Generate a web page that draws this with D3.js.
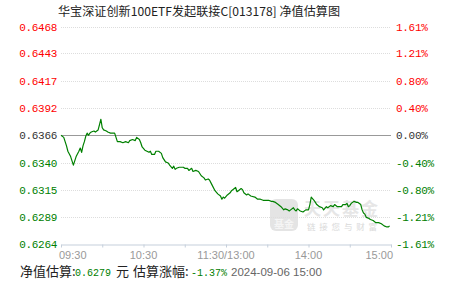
<!DOCTYPE html>
<html>
<head>
<meta charset="utf-8">
<script src="https://cdn.jsdelivr.net/npm/d3@7"></script>
<style>
  html, body { margin: 0; padding: 0; background: #fff; }
  svg { display: block; }
  .mono { font-family: "Liberation Mono", "DejaVu Sans Mono", monospace; }
  .cjk { font-family: "Noto Sans CJK SC", sans-serif; }
</style>
</head>
<body>
<svg id="chart" width="451" height="281"></svg>
<script>
const title = "华宝深证创新100ETF发起联接C[013178] 净值估算图";
const baseNav = 0.6366;
const navTicks = ["0.6468", "0.6443", "0.6417", "0.6392", "0.6366", "0.6340", "0.6315", "0.6289", "0.6264"];
const pctTicks = ["1.61%", "1.21%", "0.80%", "0.40%", "0.00%", "-0.40%", "-0.80%", "-1.21%", "-1.61%"];
const timeTicks = [0, 60, 120, 180, 240];
const timeLabels = ["09:30", "10:30", "11:30/13:00", "14:00", "15:00"];

// minutes after 09:30 (trading minutes, lunch break removed)
const minutes = [
  0, 2, 3, 4, 5, 7, 8, 9, 10, 11, 13, 14, 15, 16, 17, 18, 19, 20, 21, 22,
  24, 25, 27, 28, 29, 30, 31, 33, 34, 36, 39, 40, 41, 43, 45, 47, 49, 50, 52, 54,
  55, 57, 58, 59, 61, 64, 65, 66, 68, 69, 71, 73, 74, 76, 78, 79, 81, 82, 83, 84,
  86, 89, 90, 92, 93, 95, 96, 98, 100, 102, 104, 105, 107, 108, 110, 112, 114, 116, 117, 118,
  119, 121, 123, 124, 127, 128, 129, 131, 132, 133, 135, 136, 138, 141, 143, 145, 147, 148, 151, 153,
  154, 156, 158, 160, 162, 163, 165, 166, 167, 169, 170, 171, 172, 173, 174, 176, 178, 180, 181, 182,
  184, 185, 186, 188, 190, 191, 193, 194, 196, 198, 199, 201, 202, 204, 205, 207, 208, 209, 210, 211,
  213, 215, 216, 217, 218, 219, 220, 221, 222, 224, 225, 227, 229, 231, 233, 235, 237, 238, 239
];
const navs = [
  0.6366, 0.6364, 0.6360, 0.6356, 0.6351, 0.6346, 0.6342, 0.6338, 0.6342, 0.6346, 0.6351, 0.6354, 0.6350, 0.6356, 0.6360, 0.6365, 0.6368, 0.6366, 0.6368, 0.6369,
  0.6370, 0.6369, 0.6371, 0.6376, 0.6381, 0.6373, 0.6371, 0.6370, 0.6369, 0.6368, 0.6368, 0.6364, 0.6360, 0.6360, 0.6359, 0.6360, 0.6359, 0.6361, 0.6362, 0.6361,
  0.6364, 0.6362, 0.6359, 0.6355, 0.6352, 0.6350, 0.6351, 0.6348, 0.6348, 0.6351, 0.6351, 0.6349, 0.6345, 0.6341, 0.6340, 0.6338, 0.6335, 0.6337, 0.6334, 0.6335,
  0.6336, 0.6336, 0.6335, 0.6335, 0.6333, 0.6335, 0.6332, 0.6333, 0.6332, 0.6328, 0.6326, 0.6324, 0.6325, 0.6324, 0.6319, 0.6314, 0.6311, 0.6309, 0.6306, 0.6308,
  0.6307, 0.6310, 0.6312, 0.6314, 0.6317, 0.6313, 0.6314, 0.6316, 0.6315, 0.6312, 0.6310, 0.6311, 0.6309, 0.6308, 0.6306, 0.6306, 0.6305, 0.6305, 0.6305, 0.6304,
  0.6304, 0.6303, 0.6301, 0.6299, 0.6296, 0.6297, 0.6296, 0.6295, 0.6296, 0.6298, 0.6296, 0.6295, 0.6297, 0.6296, 0.6295, 0.6294, 0.6296, 0.6296, 0.6301, 0.6308,
  0.6305, 0.6303, 0.6301, 0.6299, 0.6298, 0.6296, 0.6299, 0.6298, 0.6300, 0.6299, 0.6301, 0.6299, 0.6299, 0.6299, 0.6301, 0.6301, 0.6302, 0.6299, 0.6300, 0.6302,
  0.6304, 0.6303, 0.6303, 0.6302, 0.6301, 0.6296, 0.6293, 0.6292, 0.6289, 0.6288, 0.6287, 0.6286, 0.6284, 0.6284, 0.6283, 0.6281, 0.6280, 0.6280, 0.6281
];

const estNav = "0.6279";
const estPct = "-1.37%";
const estTime = "2024-09-06 15:00";

const RED = "#ff0000", GREEN = "#008000", DARK = "#333333";
const colorFor = (v) => (v > baseNav ? RED : v < baseNav ? GREEN : DARK);

const svg = d3.select("#chart");
const margin = { top: 26.5, right: 60, bottom: 37, left: 61 };
const width = 451, height = 281;

const x = d3.scaleLinear().domain([0, 240]).range([margin.left, width - margin.right]);
const y = d3.scaleLinear()
  .domain([+navTicks[navTicks.length - 1], +navTicks[0]])
  .range([height - margin.bottom, margin.top]);

// title
svg.append("text")
  .attr("class", "cjk")
  .attr("x", 58).attr("y", 16)
  .attr("font-size", 12).attr("fill", "#222")
  .attr("textLength", 282).attr("lengthAdjust", "spacingAndGlyphs")
  .text(title);

// watermark
const wm = svg.append("g").attr("opacity", 0.9);
wm.append("rect").attr("x", 270).attr("y", 199).attr("width", 28).attr("height", 32)
  .attr("rx", 6).attr("fill", "#e2e2e2");
wm.append("text").attr("class", "cjk").attr("x", 284).attr("y", 228)
  .attr("text-anchor", "middle").attr("font-size", 10).attr("font-weight", "bold")
  .attr("fill", "#f4f4f4").text("基金");
wm.append("text").attr("class", "cjk").attr("x", 304).attr("y", 215)
  .attr("font-size", 17).attr("font-weight", "bold").attr("fill", "#e4e4e4")
  .attr("textLength", 74).text("天天基金");
wm.append("text").attr("class", "cjk").attr("x", 307).attr("y", 230)
  .attr("font-size", 8.5).attr("fill", "#d6d6d6")
  .attr("textLength", 70).text("链接您与财富");

// grid lines
const gridVals = navTicks.slice(0, -1);
svg.append("g")
  .selectAll("line")
  .data(gridVals)
  .join("line")
  .attr("x1", x(0)).attr("x2", x(240))
  .attr("y1", (d) => Math.round(y(+d)) + 0.5)
  .attr("y2", (d) => Math.round(y(+d)) + 0.5)
  .attr("stroke", (d) => (+d === baseNav ? "#999" : "#ddd"))
  .attr("stroke-dasharray", (d) => (+d === baseNav ? null : "1,1"));

// x axis
const xAxis = d3.axisBottom(x)
  .tickValues(d3.range(0, 241, 30))
  .tickSize(3)
  .tickSizeOuter(0)
  .tickFormat("");
const gx = svg.append("g")
  .attr("transform", `translate(0, ${Math.round(y(+navTicks[navTicks.length - 1])) + 0.5})`)
  .call(xAxis);
gx.select(".domain").attr("stroke", "#c5cfdb");
gx.selectAll(".tick line").attr("stroke", "#c5cfdb");

svg.append("g")
  .selectAll("text")
  .data(timeTicks)
  .join("text")
  .attr("x", (d, i) => x(d) + (i === 0 ? -2 : i === timeTicks.length - 1 ? 2 : 0))
  .attr("y", 259)
  .attr("text-anchor", (d, i) => (i === 0 ? "start" : i === timeTicks.length - 1 ? "end" : "middle"))
  .attr("font-family", "Liberation Sans, Arial, sans-serif")
  .attr("font-size", 11)
  .attr("fill", "#999")
  .text((d, i) => timeLabels[i]);

// y labels left
svg.append("g")
  .selectAll("text")
  .data(navTicks)
  .join("text")
  .attr("class", "mono")
  .attr("x", 57)
  .attr("y", (d) => y(+d) + 4)
  .attr("text-anchor", "end")
  .attr("font-size", 11)
  .attr("letter-spacing", -0.3)
  .attr("fill", (d) => colorFor(+d))
  .text((d) => d);

// y labels right
svg.append("g")
  .selectAll("text")
  .data(pctTicks)
  .join("text")
  .attr("class", "mono")
  .attr("x", 396)
  .attr("y", (d, i) => y(+navTicks[i]) + 4)
  .attr("font-size", 11)
  .attr("letter-spacing", -0.3)
  .attr("fill", (d, i) => colorFor(+navTicks[i]))
  .text((d) => d);

// line
const points = minutes.map((m, i) => [m, navs[i]]);
svg.append("path")
  .datum(points)
  .attr("fill", "none")
  .attr("stroke", GREEN)
  .attr("stroke-width", 1.2)
  .attr("stroke-linejoin", "round")
  .attr("d", d3.line().x((d) => x(d[0])).y((d) => y(d[1])));

// footer
const foot = svg.append("text").attr("y", 276).attr("font-size", 13);
foot.append("tspan").attr("class", "cjk").attr("x", 20).attr("fill", "#222").text("净值估算:");
foot.append("tspan").attr("class", "mono").attr("x", 75).attr("font-size", 10).attr("fill", GREEN).text(estNav);
foot.append("tspan").attr("class", "cjk").attr("x", 116).attr("fill", "#222").text("元");
foot.append("tspan").attr("class", "cjk").attr("x", 133).attr("fill", "#222").text("估算涨幅:");
foot.append("tspan").attr("class", "mono").attr("x", 191).attr("font-size", 10).attr("fill", GREEN).text(estPct);
foot.append("tspan").attr("x", 231).attr("font-family", "Liberation Sans, Arial, sans-serif")
  .attr("font-size", 11.5).attr("fill", "#666").text(estTime);
</script>
</body>
</html>
